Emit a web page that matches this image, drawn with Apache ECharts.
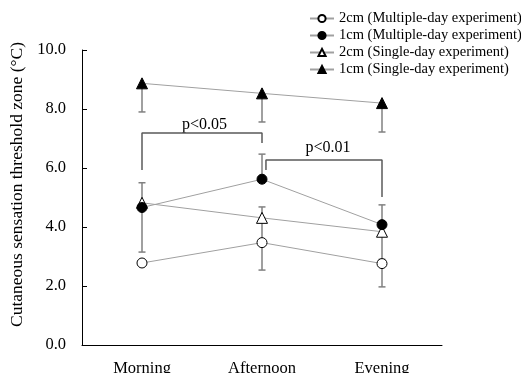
<!DOCTYPE html>
<html>
<head>
<meta charset="utf-8">
<script src="https://cdn.jsdelivr.net/npm/echarts@6/dist/echarts.min.js"></script>
<style>html,body{margin:0;padding:0;background:#fff}#c{width:521px;height:373px}</style>
</head>
<body>
<div id="c"></div>
<script>
var categories = ['Morning', 'Afternoon', 'Evening'];
var yTicks = [0, 2, 4, 6, 8, 10];
var seriesNames = ['2cm (Multiple-day experiment)', '1cm (Multiple-day experiment)', '2cm (Single-day experiment)', '1cm (Single-day experiment)'];

var twoCmMulti = [2.78, 3.47, 2.76];
var oneCmMulti = [4.66, 5.62, 4.08];
var twoCmSingle = [4.82, 4.31, 3.84];
var oneCmSingle = [8.87, 8.53, 8.2];

// error bar end values (one-sided), null = not visible
var twoCmMultiErrUp = [null, 4.3, null];
var twoCmMultiErrDown = [null, 2.54, 1.97];
var oneCmMultiErrUp = [5.5, 6.47, 4.75];
var twoCmSingleErrUp = [null, 4.68, null];
var twoCmSingleErrDown = [3.15, null, 2.9];
var oneCmSingleErrDown = [7.9, 7.56, 7.22];

// significance brackets (x in category units, 0..3)
var bracket05 = [[0.5, 5.93], [0.5, 7.19], [1.5, 7.19], [1.5, 6.85]];
var bracket01 = [[1.533, 5.93], [1.533, 6.27], [2.5, 6.27], [2.5, 5.02]];
var pLabels = [{ text: 'p<0.05', x: 1.02, y: 7.47 }, { text: 'p<0.01', x: 2.05, y: 6.69 }];

var font = "'Liberation Serif', 'Times New Roman', serif";

function errData(vals, ends) {
  var out = [];
  for (var i = 0; i < vals.length; i++) {
    if (ends[i] !== null) out.push([i, vals[i], ends[i]]);
  }
  return out;
}
var allErr = [].concat(
  errData(twoCmMulti, twoCmMultiErrUp),
  errData(twoCmMulti, twoCmMultiErrDown),
  errData(oneCmMulti, oneCmMultiErrUp),
  errData(twoCmSingle, twoCmSingleErrUp),
  errData(twoCmSingle, twoCmSingleErrDown),
  errData(oneCmSingle, oneCmSingleErrDown)
);

function lineSeries(name, data, symbol, filled, size) {
  return {
    name: name, type: 'line', data: data, symbol: symbol, symbolSize: size,
    z: 5,
    lineStyle: { color: '#a0a0a0', width: 1 },
    itemStyle: filled ? { color: '#000', borderColor: '#000', borderWidth: 1 } : { color: '#fff', borderColor: '#000', borderWidth: 1 },
    emphasis: { disabled: true },
    animation: false
  };
}

var chart = echarts.init(document.getElementById('c'));
chart.setOption({
  animation: false,
  grid: { left: 82, right: 79, top: 50, bottom: 28, containLabel: false, outerBoundsMode: 'none' },
  legend: {
    orient: 'vertical', left: 304, top: 6,
    itemWidth: 24, itemHeight: 9, itemGap: 2,
    data: seriesNames,
    textStyle: { fontFamily: font, fontSize: 14.5, color: '#000' }
  },
  xAxis: [{
    type: 'category', data: categories, boundaryGap: true,
    axisLine: { lineStyle: { color: '#000', width: 1 } },
    axisTick: { inside: true, length: 4, lineStyle: { color: '#000' } },
    axisLabel: { fontFamily: font, fontSize: 16.5, color: '#000', margin: 15 },
    splitLine: { show: false }
  }, {
    type: 'value', min: 0, max: 3, show: false
  }],
  yAxis: {
    type: 'value', min: yTicks[0], max: yTicks[yTicks.length - 1], interval: 2,
    name: 'Cutaneous sensation threshold zone (\u00B0C)',
    nameLocation: 'middle', nameGap: 54, nameRotate: 90,
    nameTextStyle: { fontFamily: font, fontSize: 17.5, color: '#000', padding: [0, 0, 0, 26] },
    axisLine: { show: true, lineStyle: { color: '#000', width: 1 } },
    axisTick: { show: true, inside: true, length: 5, lineStyle: { color: '#000' } },
    axisLabel: { fontFamily: font, fontSize: 16.5, color: '#000', margin: 16, formatter: function (v) { return v.toFixed(1); } },
    splitLine: { show: false }
  },
  series: [
    {
      type: 'custom', z: 2, silent: true,
      data: allErr,
      renderItem: function (params, api) {
        var p0 = api.coord([api.value(0), api.value(1)]);
        var p1 = api.coord([api.value(0), api.value(2)]);
        var w = 3.5;
        return {
          type: 'group', children: [
            { type: 'line', shape: { x1: p0[0], y1: p0[1], x2: p1[0], y2: p1[1] }, style: { stroke: '#808080', lineWidth: 1.5 } },
            { type: 'line', shape: { x1: p1[0] - w, y1: p1[1], x2: p1[0] + w, y2: p1[1] }, style: { stroke: '#808080', lineWidth: 1.5 } }
          ]
        };
      }
    },
    {
      type: 'line', xAxisIndex: 1, data: bracket05, symbol: 'none', z: 2, silent: true,
      lineStyle: { color: '#5a5a5a', width: 1.5 }
    },
    {
      type: 'line', xAxisIndex: 1, data: bracket01, symbol: 'none', z: 2, silent: true,
      lineStyle: { color: '#5a5a5a', width: 1.5 }
    },
    {
      type: 'custom', xAxisIndex: 1, z: 2, silent: true,
      data: pLabels.map(function (d) { return [d.x, d.y, d.text]; }),
      renderItem: function (params, api) {
        var p = api.coord([api.value(0), api.value(1)]);
        return { type: 'text', x: p[0], y: p[1], style: { text: pLabels[params.dataIndex].text, fontFamily: font, fontSize: 16, fill: '#000', align: 'center', verticalAlign: 'middle' } };
      }
    },
    lineSeries(seriesNames[0], twoCmMulti, 'circle', false, 10),
    lineSeries(seriesNames[2], twoCmSingle, 'triangle', false, 11),
    lineSeries(seriesNames[1], oneCmMulti, 'circle', true, 10),
    lineSeries(seriesNames[3], oneCmSingle, 'triangle', true, 11)
  ]
});
</script>
</body>
</html>
